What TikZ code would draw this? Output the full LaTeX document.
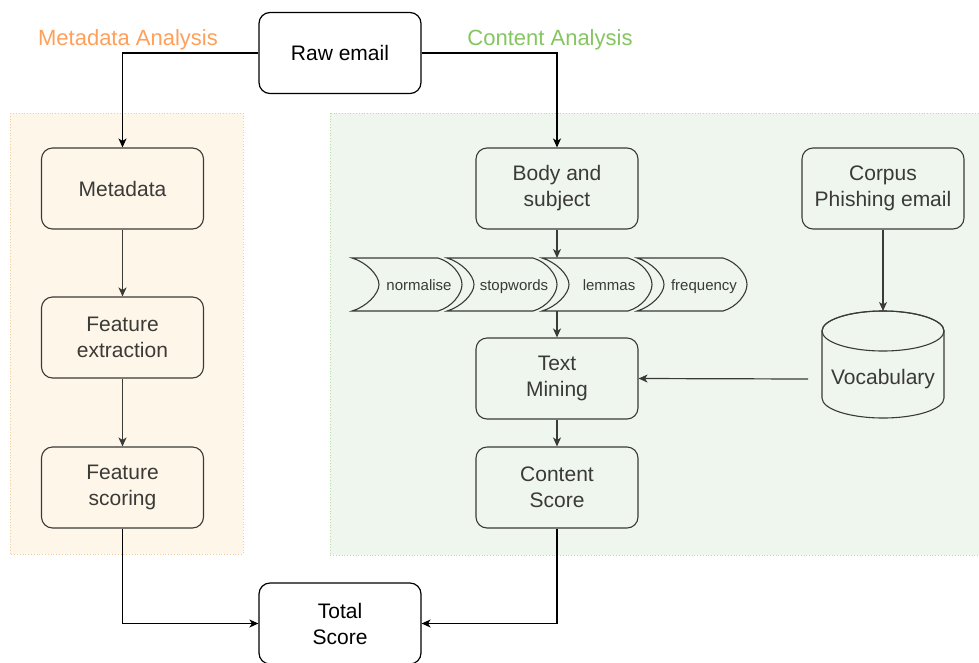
\documentclass[tikz,border=0pt]{standalone}
\usepackage{fontspec}
\setmainfont{Liberation Sans}
\usetikzlibrary{arrows.meta}
\definecolor{orangetxt}{HTML}{FFA05A}
\definecolor{greentxt}{HTML}{85C660}
\definecolor{orangefill}{HTML}{FFF6EA}
\definecolor{greenfill}{HTML}{EFF6EE}
\definecolor{orangeline}{HTML}{F6CC9C}
\definecolor{greenline}{HTML}{B9DDA6}
\definecolor{inkdark}{HTML}{3A3A36}
\begin{document}
\begin{tikzpicture}[x=1pt,y=-1pt,
  font=\fontsize{21}{26}\selectfont,
  conn/.style={draw=inkdark,line width=1.2pt,-{Stealth[length=9pt,width=8pt,inset=2.5pt]}},
  connout/.style={draw=black,line width=1.2pt,-{Stealth[length=9pt,width=8pt,inset=2.5pt]}},
  outbox/.style={draw=black,line width=1.2pt,rounded corners=11pt,fill=white,
    minimum width=162pt,minimum height=81pt,align=center,text=black,inner sep=0pt},
  inbox/.style={draw=inkdark,line width=1.1pt,rounded corners=11pt,
    minimum width=162pt,minimum height=81pt,align=center,text=inkdark,inner sep=0pt},
  chev/.style={draw=inkdark,line width=1.1pt},
  chevtxt/.style={font=\fontsize{15}{17}\selectfont,text=inkdark,inner sep=0pt,anchor=base},
  grouplbl/.style={font=\fontsize{22}{26}\selectfont,inner sep=0pt}
]
\useasboundingbox (0,0) rectangle (979,662);
\fill[white] (0,0) rectangle (979,662);
\clip (0,0) rectangle (979,662);

% containers
\draw[fill=orangefill,draw=orangeline,dotted,line width=0.8pt] (10,113) rectangle (243,554);
\draw[fill=greenfill,draw=greenline,dotted,line width=0.8pt] (330,113) rectangle (985,555);

% group labels
\node[grouplbl,text=orangetxt] (lmeta) at (128,40) {Metadata Analysis};
\node[grouplbl,text=greentxt] (lcont) at (550,40) {Content Analysis};

% outer boxes
\node[outbox] (raw) at (340,53) {Raw email};
\node[outbox] (total) at (340,623.5) {Total\\Score};

% metadata column
\node[inbox,fill=orangefill] (meta) at (122.5,188.5) {Metadata};
\node[inbox,fill=orangefill] (fext) at (122.5,337.5) {Feature\\extraction};
\node[inbox,fill=orangefill] (fsc) at (122.5,487.5) {Feature\\scoring};

% content column
\node[inbox,fill=greenfill] (body) at (557,188.5) {Body and\\subject};
\node[inbox,fill=greenfill] (corpus) at (883,188.5) {Corpus\\Phishing email};
\node[inbox,fill=greenfill] (tm) at (557,378.5) {Text\\Mining};
\node[inbox,fill=greenfill] (cs) at (557,487.5) {Content\\Score};

% chevrons
\foreach \xo/\lab/\nm in {352/normalise/cn, 447/stopwords/csw, 542/lemmas/cl, 637/frequency/cf}{
  \draw[chev,fill=greenfill]
    (\xo,258) -- (\xo+86,258)
    .. controls (\xo+100,262) and (\xo+110,275) .. (\xo+110,284.5)
    .. controls (\xo+110,294) and (\xo+100,307) .. (\xo+86,311)
    -- (\xo,311)
    .. controls (\xo+14,307) and (\xo+27,294) .. (\xo+27,284.5)
    .. controls (\xo+27,275) and (\xo+14,262) .. (\xo,258) -- cycle;
  \node[chevtxt] (\nm) at (\xo+67,290) {\lab};
}
\coordinate (chtop) at (557,258);
\coordinate (chbot) at (557,311);

% cylinder
\draw[chev,fill=greenfill] (822,331) -- (822,398)
  arc[start angle=180,end angle=0,x radius=61,y radius=20]
  -- (944,331)
  arc[start angle=0,end angle=-180,x radius=61,y radius=20];
\draw[chev] (883,331) ellipse[x radius=61,y radius=20];
\node[text=inkdark,inner sep=0pt] (voc) at (883,379) {Vocabulary};
\coordinate (voctop) at (883,311);
\coordinate (vocleft) at (808,379);

% connectors
\draw[connout] (raw.west) -| (meta.north);
\draw[connout] (raw.east) -| (body.north);
\draw[conn] (meta) -- (fext);
\draw[conn] (fext) -- (fsc);
\draw[conn] (body) -- (chtop);
\draw[conn] (chbot) -- (tm);
\draw[conn] (tm) -- (cs);
\draw[conn] (corpus) -- (voctop);
\draw[conn] (vocleft) -- (tm.east);
\draw[connout] (fsc.south) |- (total.west);
\draw[connout] (cs.south) |- (total.east);
\end{tikzpicture}
\end{document}
